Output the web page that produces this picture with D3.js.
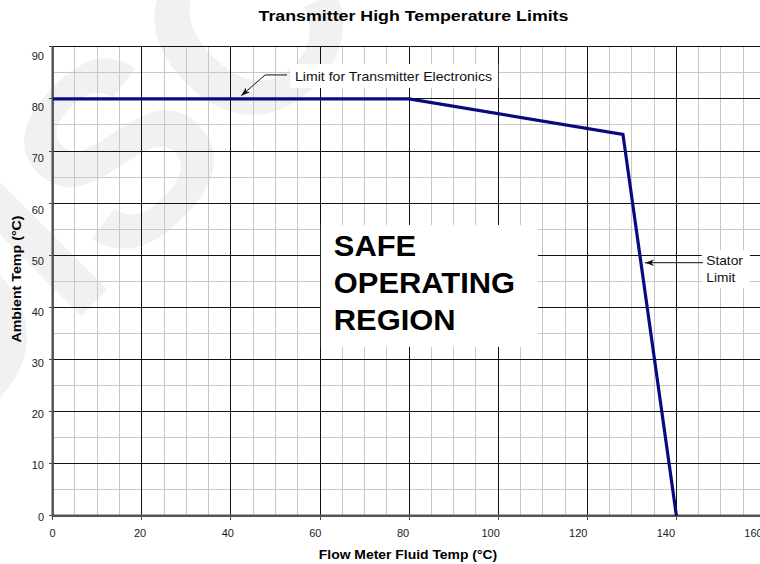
<!DOCTYPE html>
<html>
<head>
<meta charset="utf-8">
<script src="https://cdn.jsdelivr.net/npm/d3@7"></script>
<style>
  body { margin: 0; background: #fff; }
  svg { display: block; font-family: Arial, "Liberation Sans", sans-serif; }
</style>
</head>
<body>
<svg id="chart" width="760" height="564"></svg>
<script>
// Limit curve: flow meter fluid temp (x) vs max ambient temp (y)
const fluidTemp = [0, 80, 128, 140];
const ambientLimit = [80, 80, 73.2, 0];

const xTickValues = [0, 20, 40, 60, 80, 100, 120, 140, 160];
const yTickValues = [0, 10, 20, 30, 40, 50, 60, 70, 80, 90];
const xMinorValues = d3.range(0, 161, 5);
const yMinorValues = d3.range(0, 91, 5);

const safeLines = ['SAFE', 'OPERATING', 'REGION'];
const statorLines = ['Stator', 'Limit'];

const svg = d3.select('#chart');

// plot runs a little past the right edge of the picture, like the source
const x = d3.scaleLinear([0, 160], [52.7, 765.5]);
const y = d3.scaleLinear([0, 90], [515.7, 46.8]);
// tick labels sit on a slightly tighter spacing than the grid
const xLab = d3.scaleLinear([0, 160], [52.5, 753.5]);
const yLab = d3.scaleLinear([0, 90], [516.5, 56]);

// text helper: the source font is a bit wide, so stretch along the line
function addText(g, txt, px, py, o) {
  return g.append('text')
    .attr('transform', `translate(${px},${py}) rotate(${o.rot || 0}) scale(${o.sx || 1},1)`)
    .attr('text-anchor', o.anchor || 'start')
    .style('font-size', o.size + 'px')
    .style('font-weight', o.bold ? 'bold' : 'normal')
    .style('fill', o.fill || '#111')
    .text(txt);
}

// faint watermark behind everything
svg.append('text')
  .attr('transform', 'translate(-64,461) rotate(-45)')
  .style('font-size', '260px')
  .style('font-weight', 'bold')
  .style('fill', '#f1f1f1')
  .text('DISCONTINUED');

const grid = svg.append('g').attr('shape-rendering', 'crispEdges');

grid.selectAll('line.vminor').data(xMinorValues).join('line')
  .attr('class', 'vminor')
  .attr('x1', d => x(d)).attr('x2', d => x(d))
  .attr('y1', y(0)).attr('y2', y(90))
  .attr('stroke', '#c8c8c8');

grid.selectAll('line.hminor').data(yMinorValues).join('line')
  .attr('class', 'hminor')
  .attr('x1', x(0)).attr('x2', x(160))
  .attr('y1', d => y(d)).attr('y2', d => y(d))
  .attr('stroke', '#c8c8c8');

grid.selectAll('line.vmajor').data(xTickValues).join('line')
  .attr('class', 'vmajor')
  .attr('x1', d => x(d)).attr('x2', d => x(d))
  .attr('y1', y(0)).attr('y2', y(90))
  .attr('stroke', '#111');

grid.selectAll('line.hmajor').data(yTickValues).join('line')
  .attr('class', 'hmajor')
  .attr('x1', x(0)).attr('x2', x(160))
  .attr('y1', d => y(d)).attr('y2', d => y(d))
  .attr('stroke', '#111');

// tick marks
grid.selectAll('line.ytick').data(yTickValues).join('line')
  .attr('class', 'ytick')
  .attr('x1', x(0) - 4).attr('x2', x(0))
  .attr('y1', d => y(d)).attr('y2', d => y(d))
  .attr('stroke', '#444');

grid.selectAll('line.xtick').data(xTickValues).join('line')
  .attr('class', 'xtick')
  .attr('x1', d => x(d)).attr('x2', d => x(d))
  .attr('y1', y(0)).attr('y2', y(0) + 4)
  .attr('stroke', '#444');

// axis lines
svg.append('line')
  .attr('x1', x(0)).attr('x2', x(0)).attr('y1', y(0) + 1).attr('y2', y(90))
  .attr('stroke', '#555').attr('stroke-width', 2.5);
svg.append('line')
  .attr('x1', x(0)).attr('x2', x(160)).attr('y1', y(0)).attr('y2', y(0))
  .attr('stroke', '#555').attr('stroke-width', 2.5);

// tick labels
const labs = svg.append('g');
yTickValues.forEach(v => {
  addText(labs, v, 44, yLab(v) + 4, { size: 11, anchor: 'end', fill: '#222' });
});
xTickValues.forEach(v => {
  addText(labs, v, xLab(v), 537, { size: 11, anchor: 'middle', fill: '#222' });
});

// white boxes behind the annotations
function box(x0, x1, y0, y1) {
  svg.append('rect')
    .attr('x', x(x0)).attr('y', y(y0))
    .attr('width', x(x1) - x(x0)).attr('height', y(y1) - y(y0))
    .attr('fill', '#fff');
}
box(60.2, 108.9, 55.8, 32.4);   // safe region
box(53.3, 100.0, 86.7, 82.1);   // electronics label
box(145.7, 156.5, 51, 43.7);    // stator label

// the limit curve
const pts = fluidTemp.map((f, i) => [f, ambientLimit[i]]);
svg.append('path')
  .datum(pts)
  .attr('d', d3.line().x(d => x(d[0])).y(d => y(d[1])))
  .attr('fill', 'none')
  .attr('stroke', '#0a0a80')
  .attr('stroke-width', 3.2)
  .attr('stroke-linejoin', 'miter');

// arrow heads
svg.append('defs').append('marker')
  .attr('id', 'arrow')
  .attr('markerUnits', 'userSpaceOnUse')
  .attr('markerWidth', 10).attr('markerHeight', 8)
  .attr('refX', 9).attr('refY', 4)
  .attr('orient', 'auto')
  .append('path')
  .attr('d', 'M0,0.8 L9,4 L0,7.2 L2.5,4 Z')
  .attr('fill', '#111');

const lead = d3.line().x(d => x(d[0])).y(d => y(d[1]));
svg.append('path')
  .datum([[52.6, 84.6], [47.7, 84.6], [42.3, 80.6]])
  .attr('d', lead)
  .attr('fill', 'none').attr('stroke', '#111').attr('stroke-width', 1)
  .attr('marker-end', 'url(#arrow)');
svg.append('path')
  .datum([[145.98, 48.56], [132.95, 48.56]])
  .attr('d', lead)
  .attr('fill', 'none').attr('stroke', '#111').attr('stroke-width', 1)
  .attr('marker-end', 'url(#arrow)');

// annotation text
addText(svg, 'Limit for Transmitter Electronics', x(54.4), y(83.5), { size: 12.5, sx: 1.127 });
statorLines.forEach((t, i) => {
  addText(svg, t, x(146.7), y([48.1, 44.9][i]), { size: 12.5, sx: 1.1 });
});
safeLines.forEach((t, i) => {
  addText(svg, t, x(63.1), y([49.9, 42.7, 35.6][i]), { size: 30, bold: true, sx: 1.03, fill: '#000' });
});

// titles
addText(svg, 'Transmitter High Temperature Limits', 413.5, 20.5, { size: 14, bold: true, sx: 1.27, anchor: 'middle', fill: '#000' });
addText(svg, 'Flow Meter Fluid Temp (°C)', 408, 559, { size: 12, bold: true, sx: 1.16, anchor: 'middle', fill: '#000' });
addText(svg, 'Ambient Temp (°C)', 21, 279, { size: 12.5, bold: true, sx: 1.14, rot: -90, anchor: 'middle', fill: '#000' });
</script>
</body>
</html>
